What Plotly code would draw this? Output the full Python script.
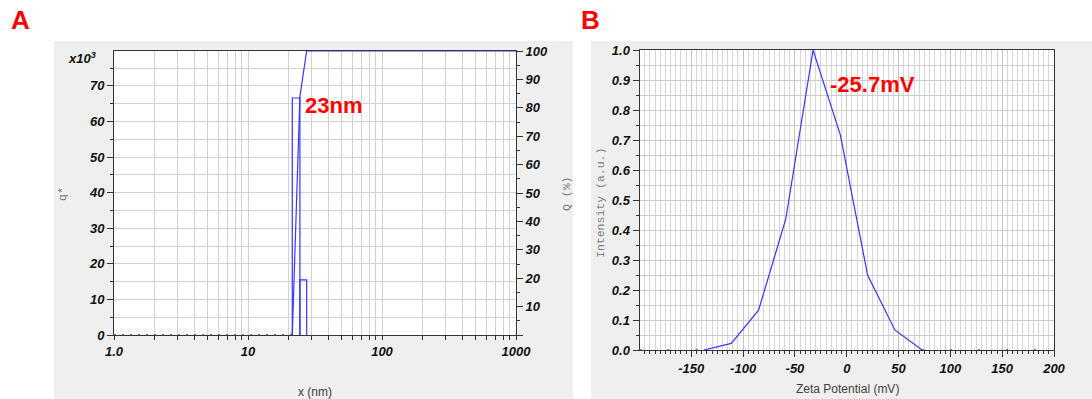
import plotly.graph_objects as go

W, H = 1092, 399

# ---- Panel A: particle size distribution ----
bin_edges_nm = [21.4, 24.4, 27.4]          # histogram bin edges (nm)
q_star = [66.6, 15.5]                      # density q* (x10^3) per bin
cum_x_nm = [21.4, 24.4, 27.4, 1000.0]
cum_Q = [0.0, 84.0, 100.0, 100.0]          # cumulative Q (%)
empty_x_nm = [1.0, 21.4]                   # size range without signal
empty_q = [0.0, 0.0]
size_decades = [1, 10, 100, 1000]
size_decade_text = ["1.0", "10", "100", "1000"]
q_ticks = [0, 10, 20, 30, 40, 50, 60, 70]
Q_ticks = [0, 10, 20, 30, 40, 50, 60, 70, 80, 90, 100]

# ---- Panel B: zeta potential distribution ----
zeta_mV = [-137.7, -111.4, -85.1, -58.8, -32.5, -6.2, 20.1, 46.4, 72.7]
zeta_intensity = [0.0, 0.022, 0.133, 0.437, 1.0, 0.717, 0.25, 0.067, 0.0]
zeta_zero_left = [-200.0, -137.7]
zeta_zero_right = [72.7, 200.0]
zeta_zero_level = [0.0, 0.0]
zeta_ticks = [-150, -100, -50, 0, 50, 100, 150, 200]
intensity_ticks = [0.0, 0.1, 0.2, 0.3, 0.4, 0.5, 0.6, 0.7, 0.8, 0.9, 1.0]

BLUE = "#3535ff"
GRID = "#d2d2d2"
AXIS = "#333333"
NARROW = "Liberation Sans Narrow, Arial Narrow, Liberation Sans, Arial"
tickfont = dict(family=NARROW, size=13, color="#111111", weight="bold", style="italic")

# outline of the histogram bars, one closed box per bin
bar_x, bar_y = [], []
for lo, hi, q in zip(bin_edges_nm[:-1], bin_edges_nm[1:], q_star):
    bar_x += [lo, lo, hi, hi, None]
    bar_y += [0, q, q, 0, None]

# log grid positions 1..9 per decade
log_grid = [m * 10 ** d for d in range(3) for m in range(1, 10)] + [1000]
log_text = [size_decade_text[size_decades.index(v)] if v in size_decades else ""
            for v in log_grid]

# fine 5 mV grid for the zeta axis
zeta_minor = [v for v in range(-200, 201, 5) if v % 50 != 0]

fig = go.Figure()
fig.add_trace(go.Scatter(x=empty_x_nm, y=empty_q, mode="lines",
                         line=dict(color=BLUE, width=1.5, dash="2px,6px"),
                         xaxis="x", yaxis="y", hoverinfo="skip"))
fig.add_trace(go.Scatter(x=bar_x, y=bar_y, mode="lines",
                         line=dict(color=BLUE, width=1.2),
                         xaxis="x", yaxis="y"))
fig.add_trace(go.Scatter(x=cum_x_nm, y=cum_Q, mode="lines",
                         line=dict(color=BLUE, width=1.2),
                         xaxis="x", yaxis="y2"))

fig.add_trace(go.Scatter(x=zeta_zero_left, y=zeta_zero_level, mode="lines",
                         line=dict(color=BLUE, width=1.5, dash="2px,26px"),
                         xaxis="x2", yaxis="y3", hoverinfo="skip"))
fig.add_trace(go.Scatter(x=zeta_zero_right, y=zeta_zero_level, mode="lines",
                         line=dict(color=BLUE, width=1.5, dash="2px,26px"),
                         xaxis="x2", yaxis="y3", hoverinfo="skip"))
fig.add_trace(go.Scatter(x=zeta_mV, y=zeta_intensity, mode="lines",
                         line=dict(color=BLUE, width=1.2),
                         xaxis="x2", yaxis="y3"))

common = dict(showline=True, linecolor=AXIS, linewidth=1, zeroline=False,
              automargin=False, ticks="outside", tickcolor=AXIS, tickfont=tickfont)

fig.update_layout(
    width=W, height=H, margin=dict(l=0, r=0, t=0, b=0, pad=0, autoexpand=False),
    paper_bgcolor="white", plot_bgcolor="white", showlegend=False,
    xaxis=dict(domain=[114 / W, 516 / W], type="log", range=[0, 3], anchor="y",
               tickmode="array", tickvals=log_grid, ticktext=log_text, ticklen=4,
               showgrid=True, gridcolor=GRID, mirror=True, **common),
    yaxis=dict(domain=[1 - 335 / H, 1 - 51 / H], range=[0, 79.8], anchor="x",
               tickmode="array", tickvals=q_ticks, ticktext=[str(v) for v in q_ticks],
               ticklen=6, showgrid=True, gridcolor=GRID,
               minor=dict(tickmode="linear", tick0=0, dtick=5, ticks="outside",
                          ticklen=3, tickcolor=AXIS, showgrid=True, gridcolor=GRID),
               **common),
    yaxis2=dict(overlaying="y", side="right", anchor="x", range=[0, 100],
                tickmode="array", tickvals=Q_ticks,
                ticktext=[""] + [str(v) for v in Q_ticks[1:]], ticklen=6,
                showgrid=False,
                minor=dict(tickmode="linear", tick0=5, dtick=10, ticks="outside",
                           ticklen=3, tickcolor=AXIS, showgrid=False),
                **common),
    xaxis2=dict(domain=[639.5 / W, 1054 / W], range=[-200, 200], anchor="y3",
                tickmode="array", tickvals=zeta_ticks,
                ticktext=[str(v) for v in zeta_ticks], ticklen=6,
                showgrid=True, gridcolor="#c4c4c4", mirror=True,
                minor=dict(tickmode="array", tickvals=zeta_minor, ticks="outside",
                           ticklen=3, tickcolor=AXIS, showgrid=True, gridcolor="#d6d6d6"),
                **common),
    yaxis3=dict(domain=[1 - 350 / H, 1 - 50 / H], range=[0, 1], anchor="x2",
                tickmode="array", tickvals=intensity_ticks,
                ticktext=[f"{v:.1f}" for v in intensity_ticks], ticklen=6,
                showgrid=True, gridcolor="#cccccc", mirror=True,
                minor=dict(tickmode="linear", tick0=0, dtick=0.05, ticks="outside",
                           ticklen=3, tickcolor=AXIS, showgrid=True, gridcolor="#cccccc"),
                **common),
)

# grey panel backgrounds with white plotting areas
PANEL = "#efefef"
fig.add_shape(type="rect", xref="paper", yref="paper", x0=54 / W, x1=573 / W,
              y0=0, y1=1 - 41 / H, fillcolor=PANEL, line_width=0, layer="below")
fig.add_shape(type="rect", xref="paper", yref="paper", x0=591 / W, x1=1,
              y0=0, y1=1 - 41 / H, fillcolor=PANEL, line_width=0, layer="below")
fig.add_shape(type="rect", xref="x domain", yref="y domain", x0=0, x1=1, y0=0, y1=1,
              fillcolor="white", line_width=0, layer="below")
fig.add_shape(type="rect", xref="x2 domain", yref="y3 domain", x0=0, x1=1, y0=0, y1=1,
              fillcolor="white", line_width=0, layer="below")

RED = "#ff0000"
SANS = "Liberation Sans, Arial"
MONO = "Liberation Mono, Courier New, monospace"


def px(x, y):
    return x / W, 1 - y / H


annots = []
for text, (x, y), size in [("A", (20, 19.5), 26), ("B", (590, 19.5), 26)]:
    ax_, ay_ = px(x, y)
    annots.append(dict(text=f"<b>{text}</b>", x=ax_, y=ay_, xref="paper", yref="paper",
                       xanchor="center", yanchor="middle", showarrow=False,
                       font=dict(family=SANS, size=size, color=RED)))

# peak labels placed in data coordinates
annots.append(dict(text="<b>23nm</b>", x=1.41, y=64.5, xref="x", yref="y",
                   xanchor="left", yanchor="middle", showarrow=False,
                   font=dict(family=SANS, size=22, color=RED)))
annots.append(dict(text="<b>-25.7mV</b>", x=-18, y=0.885, xref="x2", yref="y3",
                   xanchor="left", yanchor="middle", showarrow=False,
                   font=dict(family=SANS, size=22, color=RED)))

# multiplier of the q* axis
mx, my = px(82, 58)
annots.append(dict(text="<b><i>x10<sup>3</sup></i></b>", x=mx, y=my, xref="paper",
                   yref="paper", xanchor="center", yanchor="middle", showarrow=False,
                   font=dict(family=NARROW, size=13, color="#111111")))

# axis titles
for text, (x, y), fam, size, color, angle in [
    ("x (nm)", (315, 392), SANS, 12, "#404040", 0),
    ("Zeta Potential (mV)", (847, 389), SANS, 12, "#404040", 0),
    ("q*", (62, 194), MONO, 11.5, "#777777", -90),
    ("Q (%)", (566, 194), MONO, 11.5, "#777777", -90),
    ("Intensity (a.u.)", (600, 203), MONO, 11.5, "#808080", -90),
]:
    tx, ty = px(x, y)
    annots.append(dict(text=text, x=tx, y=ty, xref="paper", yref="paper",
                       xanchor="center", yanchor="middle", showarrow=False,
                       textangle=angle, font=dict(family=fam, size=size, color=color)))

fig.update_layout(annotations=annots)
fig.write_html("out.html")
